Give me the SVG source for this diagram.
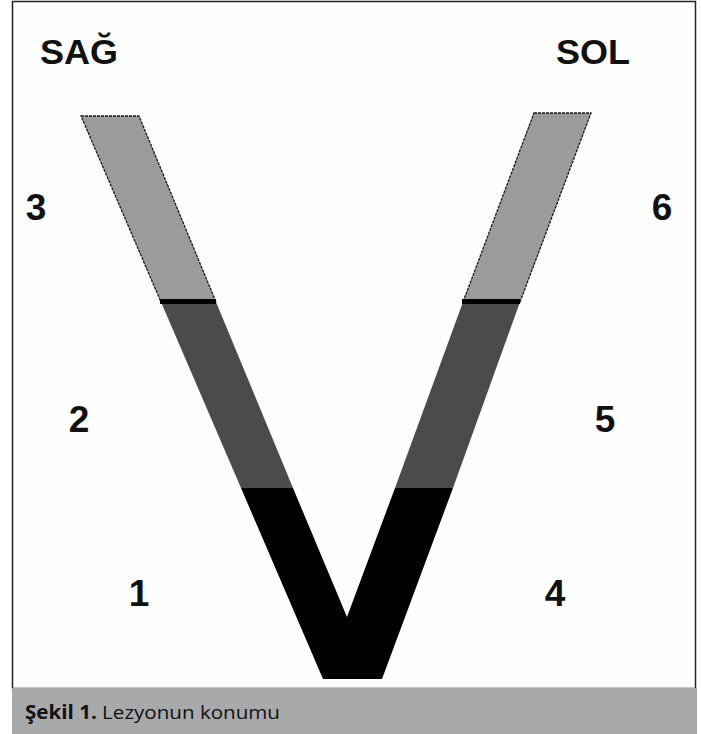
<svg xmlns="http://www.w3.org/2000/svg" width="701" height="734" viewBox="0 0 701 734">
<style>
.lbl{font-family:"Liberation Sans",Arial,sans-serif;font-weight:bold;fill:#111;}
.num{font-size:37px;text-anchor:middle;}
.hdr{font-size:35px;}
.light{fill:#9b9b9b;stroke:#1a1a1a;stroke-width:1.3;stroke-dasharray:3 1;}
.dark{fill:#4b4b4b;}
.blk{fill:#000;}
.cap{font-family:"Open Sans","Liberation Sans",sans-serif;font-size:19px;fill:#111;}
</style>
<rect x="0" y="0" width="701" height="734" fill="#fff"/>
<rect x="12.5" y="1.5" width="683" height="687" fill="#fefefe" stroke="#222" stroke-width="1.5"/>
<g id="caption">
<rect x="12" y="688" width="685" height="46" fill="#a8a9ab"/>
<text class="cap" x="25" y="719" textLength="255" lengthAdjust="spacingAndGlyphs"><tspan font-weight="bold">Şekil 1.</tspan> Lezyonun konumu</text>
</g>
<g id="left-arm">
<polygon class="light" points="81,116 139,116 216,302 161,302"/>
<polygon class="dark" points="161,302 216,302 293,488 241,488"/>
<rect x="160" y="299" width="56" height="5" fill="#000"/>
</g>
<g id="right-arm">
<polygon class="light" points="534,113 591,113 520,302 463,302"/>
<polygon class="dark" points="463,302 520,302 453,488 395,488"/>
<rect x="462" y="299" width="58" height="5" fill="#000"/>
</g>
<g id="bottom">
<polygon class="blk" points="241,488 293,488 347,617 395,488 453,488 382,679 323,679"/>
</g>
<g id="labels">
<text class="lbl hdr" x="40" y="64" textLength="78" lengthAdjust="spacingAndGlyphs">SAĞ</text>
<text class="lbl hdr" x="556" y="64" textLength="74" lengthAdjust="spacingAndGlyphs">SOL</text>
<text class="lbl num" x="36" y="220">3</text>
<text class="lbl num" x="662" y="220">6</text>
<text class="lbl num" x="79" y="432">2</text>
<text class="lbl num" x="605" y="432">5</text>
<text class="lbl num" x="139" y="606">1</text>
<text class="lbl num" x="555" y="606">4</text>
</g>
</svg>
